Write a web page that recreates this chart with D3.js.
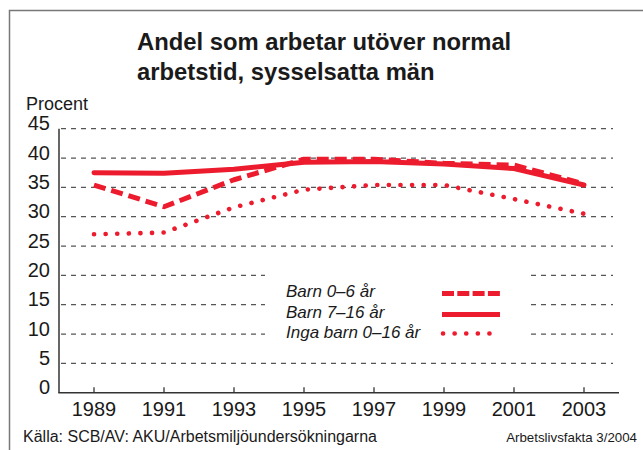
<!DOCTYPE html>
<html>
<head>
<meta charset="utf-8">
<script src="https://cdn.jsdelivr.net/npm/d3@7"></script>
<style>
  body { margin: 0; background: #fff; }
  svg { display: block; font-family: "Liberation Sans", Arial, Helvetica, sans-serif; }
</style>
</head>
<body>
<div id="chart"></div>
<script>
// values (percent)
var years = [1989, 1991, 1993, 1995, 1997, 1999, 2001, 2003];
var barn06 = [35.4, 31.7, 36.3, 39.8, 39.8, 39.1, 38.8, 35.6];
var barn716 = [37.5, 37.4, 38.1, 39.3, 39.4, 39.0, 38.2, 35.4];
var ingaBarn = [27.0, 27.3, 31.6, 34.6, 35.4, 35.4, 33.0, 30.5];
var yTicks = [0, 5, 10, 15, 20, 25, 30, 35, 40, 45];
var seriesNames = ["Barn 0\u20136 år", "Barn 7\u201316 år", "Inga barn 0\u201316 år"];

var width = 643, height = 450;
var red = "#ec1c2e";

var svg = d3.select("#chart").append("svg")
    .attr("width", width)
    .attr("height", height);

// frame
svg.append("rect")
    .attr("x", 9.5).attr("y", 10.5)
    .attr("width", 660).attr("height", 460)
    .style("fill", "none")
    .style("stroke", "#777")
    .style("stroke-width", 1.5);

var x = d3.scaleLinear().domain([1988, 2004]).range([59, 619]);
var y = d3.scaleLinear().domain([0, 45]).range([392.7, 128.7]);

// title
var title = svg.append("text")
    .attr("x", 137)
    .style("font-size", "23.8px")
    .style("font-weight", "bold")
    .style("fill", "#1a1a1a");
title.append("tspan").attr("x", 137).attr("y", 50).text("Andel som arbetar utöver normal");
title.append("tspan").attr("x", 137).attr("y", 79.5).text("arbetstid, sysselsatta män");

svg.append("text")
    .attr("x", 26).attr("y", 110)
    .style("font-size", "18px")
    .style("fill", "#1a1a1a")
    .text("Procent");

// gridlines
svg.selectAll(".grid")
    .data(yTicks.filter(function(d){ return d > 0; }))
    .enter().append("line")
    .attr("class", "grid")
    .attr("x1", 61).attr("x2", 613)
    .attr("y1", function(d){ return y(d); })
    .attr("y2", function(d){ return y(d); })
    .style("stroke", "#555")
    .style("stroke-width", 1.2)
    .style("stroke-dasharray", "5 5");

// y tick labels
svg.selectAll(".ylab")
    .data(yTicks)
    .enter().append("text")
    .attr("class", "ylab")
    .attr("x", 50)
    .attr("y", function(d){ return y(d) + 1.5; })
    .attr("text-anchor", "end")
    .style("font-size", "20px")
    .style("fill", "#1a1a1a")
    .text(function(d){ return d; });

// legend background (hides gridlines)
svg.append("rect")
    .attr("x", 265).attr("y", 268)
    .attr("width", 262).attr("height", 76)
    .style("fill", "#fff");

// axes
svg.append("line")
    .attr("x1", 59).attr("x2", 59)
    .attr("y1", y(45)).attr("y2", y(0))
    .style("stroke", "#333").style("stroke-width", 1.5);
svg.append("line")
    .attr("x1", 58.3).attr("x2", 619)
    .attr("y1", y(0)).attr("y2", y(0))
    .style("stroke", "#333").style("stroke-width", 1.5);

svg.selectAll(".tick")
    .data(years)
    .enter().append("line")
    .attr("x1", function(d){ return x(d); })
    .attr("x2", function(d){ return x(d); })
    .attr("y1", y(0)).attr("y2", y(0) - 5.5)
    .style("stroke", "#333").style("stroke-width", 1.3);

svg.selectAll(".xlab")
    .data(years)
    .enter().append("text")
    .attr("x", function(d){ return x(d); })
    .attr("y", 415.5)
    .attr("text-anchor", "middle")
    .style("font-size", "20px")
    .style("fill", "#1a1a1a")
    .text(function(d){ return d; });

// lines
var styles = [
  {dash: "12 6", cap: "butt", w: 5},
  {dash: null, cap: "round", w: 5},
  {dash: "0.1 11.5", cap: "round", w: 4.6}
];
var seriesData = [barn06, barn716, ingaBarn];
var line = d3.line()
    .x(function(d, i){ return x(years[i]); })
    .y(function(d){ return y(d); });

// draw solid first, then dashed, then dotted
[1, 0, 2].forEach(function(k){
  svg.append("path")
    .datum(seriesData[k])
    .attr("d", line)
    .style("fill", "none")
    .style("stroke", red)
    .style("stroke-width", styles[k].w)
    .style("stroke-linecap", styles[k].cap)
    .style("stroke-linejoin", "round")
    .style("stroke-dasharray", styles[k].dash);
});

// legend
var legY = [297, 318, 338];
var sampY = [293.5, 314.5, 333.5];
seriesNames.forEach(function(name, k){
  svg.append("text")
    .attr("x", 286).attr("y", legY[k])
    .style("font-size", "17px")
    .style("font-style", "italic")
    .style("fill", "#1a1a1a")
    .text(name);
  svg.append("line")
    .attr("x1", k == 2 ? 443 : 442).attr("x2", k == 2 ? 497 : 500)
    .attr("y1", sampY[k]).attr("y2", sampY[k])
    .style("stroke", red)
    .style("stroke-width", styles[k].w)
    .style("stroke-linecap", k == 2 ? "round" : "butt")
    .style("stroke-dasharray", k == 0 ? "12 3.3" : styles[k].dash);
});

// footer
svg.append("text")
    .attr("x", 23).attr("y", 442)
    .style("font-size", "16px")
    .style("fill", "#1a1a1a")
    .text("Källa: SCB/AV: AKU/Arbetsmiljöundersökningarna");
svg.append("text")
    .attr("x", 637).attr("y", 442)
    .attr("text-anchor", "end")
    .style("font-size", "13.3px")
    .style("fill", "#1a1a1a")
    .text("Arbetslivsfakta 3/2004");
</script>
</body>
</html>
